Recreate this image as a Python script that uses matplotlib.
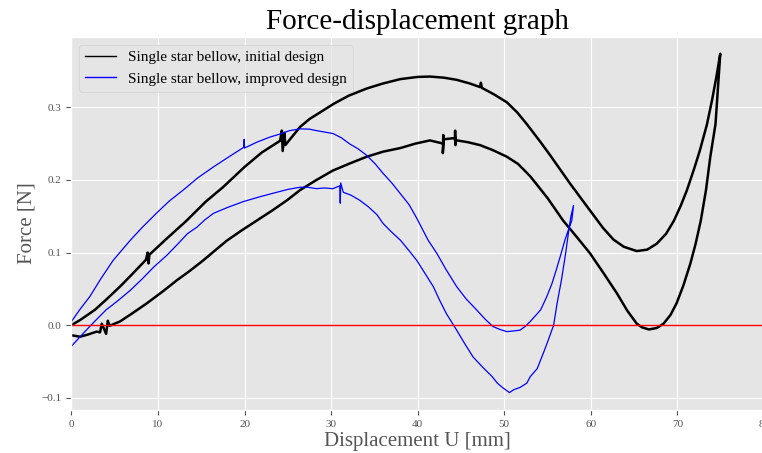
import matplotlib
matplotlib.use('Agg')
import matplotlib.pyplot as plt

plt.style.use('ggplot')
plt.rcParams['font.family'] = 'serif'
plt.rcParams['font.serif'] = ['Liberation Serif', 'DejaVu Serif']

# Single star bellow, initial design (loading then unloading)
u_init = [0.0, 1.0, 2.7, 4.0, 5.6, 7.0, 8.6, 8.8, 8.9, 9.0, 10.8, 13.3, 15.5, 17.5,
          20.0, 22.0, 24.1, 24.3, 24.4, 24.6, 24.7, 26.4, 27.5, 30.3, 32.0, 34.1,
          36.0, 38.0, 40.0, 41.4, 43.0, 44.5, 46.0, 47.2, 47.3, 47.4, 48.8, 50.3,
          51.5, 52.6, 54.2, 55.3, 57.6, 59.9, 61.4, 62.6, 63.8, 65.3, 66.5,
          67.6, 68.7, 69.6, 70.4, 71.1, 72.0, 72.6, 73.4, 74.0, 74.5, 74.95,
          74.7, 74.4, 73.8, 73.3, 72.7, 72.1, 71.5, 70.7, 69.9, 69.2, 68.4, 67.6,
          66.7, 65.9, 65.3, 64.2, 63.0, 61.5, 59.9, 58.4, 56.8, 55.0, 53.0,
          51.6, 50.3, 48.7, 47.2, 45.8, 44.3, 44.32, 44.35, 44.4, 43.0, 42.9,
          42.95, 43.0, 41.4, 39.7, 38.0, 36.0, 34.1, 32.2, 30.2, 28.3, 26.4, 24.9,
          23.2, 21.4, 19.6, 17.9, 16.5, 15.2, 13.7, 12.2, 10.5, 8.7, 7.0, 5.6, 4.4,
          4.2, 4.0, 3.5, 3.3, 2.9, 1.9, 1.0, 0.0]
f_init = [0.000, 0.007, 0.021, 0.035, 0.053, 0.070, 0.090, 0.100, 0.085, 0.097,
          0.117, 0.144, 0.170, 0.190, 0.218, 0.238, 0.254, 0.268, 0.240, 0.265,
          0.248, 0.273, 0.284, 0.305, 0.316, 0.326, 0.333, 0.339, 0.342, 0.3425,
          0.341, 0.338, 0.333, 0.328, 0.334, 0.327, 0.318, 0.307, 0.293, 0.277,
          0.252, 0.234, 0.195, 0.158, 0.134, 0.118, 0.108, 0.102, 0.104,
          0.112, 0.126, 0.144, 0.165, 0.186, 0.218, 0.241, 0.276, 0.310, 0.342,
          0.374,
          0.330, 0.277, 0.232, 0.186, 0.144, 0.112, 0.085, 0.055, 0.030, 0.014,
          0.002, -0.004, -0.006, -0.003, 0.002, 0.020, 0.044, 0.071, 0.099, 0.121,
          0.144, 0.175, 0.205, 0.222, 0.232, 0.241, 0.248, 0.252, 0.255,
          0.268, 0.248, 0.258, 0.256, 0.237, 0.262, 0.250, 0.2545, 0.250, 0.244,
          0.239, 0.232, 0.223, 0.213, 0.200, 0.186, 0.172, 0.158, 0.144, 0.130,
          0.116, 0.102, 0.089, 0.075, 0.062, 0.046, 0.030, 0.016, 0.005, -0.001,
          0.006, -0.012, 0.002, -0.010, -0.009, -0.013, -0.016, -0.014]

# Single star bellow, improved design
u_impr = [0.0, 1.0, 2.1, 3.4, 4.8, 6.8, 8.2, 9.8, 11.3, 12.9, 14.6, 16.4, 18.2,
          19.9, 19.95, 20.0, 21.4, 22.9, 24.0, 25.2, 26.4, 27.5, 28.3, 30.2, 31.2,
          32.1, 33.1, 34.1, 35.1, 36.0, 37.0, 38.0, 39.0, 39.9, 41.2, 42.2, 43.3,
          44.5, 45.6, 46.8, 47.8, 48.7, 49.5, 50.3, 51.1, 51.8, 52.4, 53.0, 54.2,
          54.9, 55.5, 56.0, 56.5, 57.0, 57.4, 57.8, 58.0,
          57.7, 57.5, 57.1, 56.6, 56.1, 55.7, 55.1, 54.5, 53.8, 53.0, 52.6, 51.8,
          51.1, 50.6, 49.9, 49.2, 48.6, 47.5, 46.4, 45.4, 44.5, 43.3, 42.5, 41.8,
          40.8, 39.9, 38.9, 38.0, 37.0, 36.0, 35.3, 34.3, 33.3, 32.3, 31.4, 31.1,
          31.05, 31.0, 30.2, 29.2, 28.3, 27.3, 26.4, 25.0, 23.7, 21.8, 19.8, 18.0,
          16.4, 15.4, 14.5, 13.4, 12.3, 11.0, 9.5, 8.2, 6.8, 5.4, 4.0, 3.0, 2.1,
          1.0, 0.0]
f_impr = [0.005, 0.022, 0.039, 0.064, 0.089, 0.117, 0.135, 0.154, 0.171, 0.186,
          0.203, 0.218, 0.232, 0.245, 0.256, 0.244, 0.252, 0.259, 0.263, 0.268,
          0.2705, 0.270, 0.268, 0.264, 0.258, 0.250, 0.243, 0.234, 0.222, 0.209,
          0.196, 0.181, 0.166, 0.147, 0.117, 0.099, 0.076, 0.053, 0.036, 0.021,
          0.008, -0.002, -0.006, -0.009, -0.008, -0.007, -0.002, 0.005, 0.021,
          0.039, 0.057, 0.076, 0.096, 0.117, 0.131, 0.144, 0.165,
          0.150, 0.135, 0.100, 0.062, 0.030, 0.000, -0.020, -0.039, -0.060,
          -0.071, -0.080, -0.086, -0.089, -0.093, -0.087, -0.080, -0.071, -0.058,
          -0.044, -0.025, -0.007, 0.016, 0.035, 0.053, 0.072, 0.089, 0.104, 0.117,
          0.128, 0.140, 0.152, 0.163, 0.172, 0.179, 0.183, 0.196, 0.168, 0.192,
          0.188, 0.189, 0.188, 0.190, 0.190, 0.187, 0.183, 0.177, 0.170, 0.162,
          0.154, 0.145, 0.135, 0.126, 0.112, 0.096, 0.080, 0.064, 0.048, 0.034,
          0.021, 0.009, -0.002, -0.016, -0.029]

fig = plt.figure(figsize=(7.62, 4.53), dpi=100)
ax = fig.add_axes([0.0938, 0.0949, 0.9088, 0.8234])

ax.plot(u_init, f_init, color='black', lw=1.8, label='Single star bellow, initial design')
ax.plot(u_impr, f_impr, color='blue', lw=0.9, label='Single star bellow, improved design')
ax.axhline(0, color='red', lw=1)

ax.set_xlim(0, 80)
ax.set_ylim(-0.117, 0.397)
ax.set_yticks([-0.1, 0.0, 0.1, 0.2, 0.3])
ax.tick_params(labelsize=8, colors='#555555')

ax.set_title('Force-displacement graph', fontsize=21, color='black')
ax.set_xlabel('Displacement U [mm]', fontsize=15, color='#555555', labelpad=2)
ax.set_ylabel('Force [N]', fontsize=15, color='#555555')

leg = ax.legend(loc='upper left', fontsize=11)
for h in leg.get_lines():
    h.set_linewidth(1)

fig.savefig('out.png', dpi=100)
